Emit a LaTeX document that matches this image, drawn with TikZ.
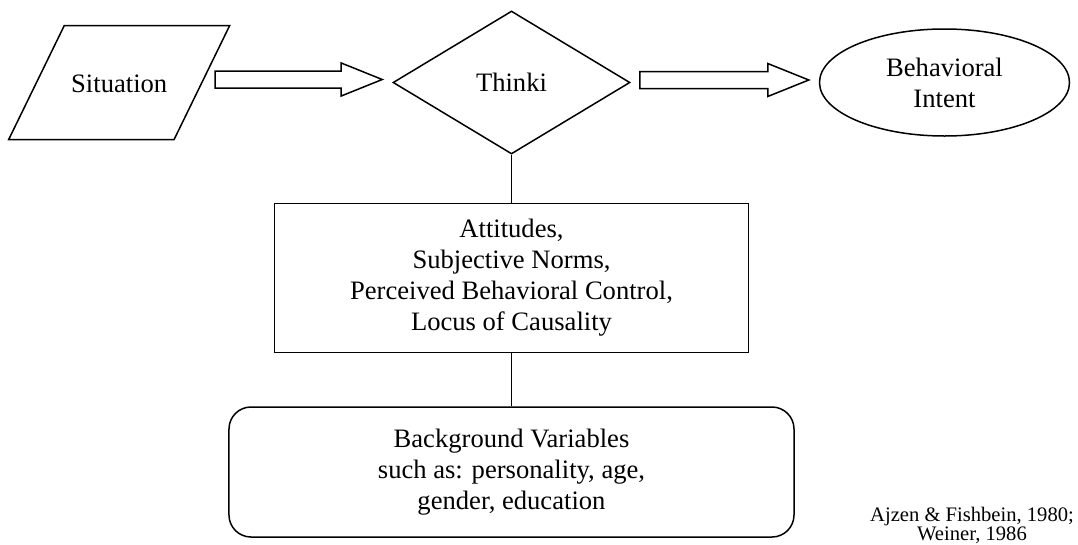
\documentclass[tikz,border=0pt]{standalone}
\usepackage{fontspec}
\setmainfont{Liberation Serif}
\usetikzlibrary{shapes.geometric, positioning, calc}

% hollow block arrow between two points
\newcommand{\blockarrow}[2]{%
  \draw[blockarr] let \p1=(#1), \p2=(#2) in
    (\x1,\y2+8.5pt) -- (\x2-41pt,\y2+8.5pt) -- (\x2-41pt,\y2+16.5pt)
    -- (\x2,\y2) -- (\x2-41pt,\y2-16.5pt) -- (\x2-41pt,\y2-8.5pt)
    -- (\x1,\y2-8.5pt) -- cycle;}

\begin{document}
\begin{tikzpicture}[
        x=1pt, y=1pt,
        line width=1.5pt,
        font=\fontsize{26.6}{31}\selectfont,
        data/.style={draw, trapezium, trapezium left angle=64, trapezium right angle=116, trapezium stretches body, text height=22pt, text depth=2pt, inner xsep=0pt, inner ysep=45pt, minimum width=221pt, minimum height=114pt},
        decision/.style={draw, diamond, aspect=1.66, minimum width=237pt, minimum height=143pt, inner sep=0pt},
        terminal/.style={draw, ellipse, minimum width=250pt, minimum height=107pt, inner sep=0pt, align=center},
        process/.style={draw, minimum width=474pt, minimum height=149pt, align=center},
        roundproc/.style={draw, rounded corners=22pt, minimum width=565pt, minimum height=130pt, align=center},
        blockarr/.style={draw, line width=1.5pt, fill=white},
        link/.style={draw, line width=1.5pt}
    ]
        \useasboundingbox (-511.5,82.5) rectangle (566.5,-461.5);

        \node[decision] (think) {Thinki};
        \node[data, left=189.5pt of think] (sit) {Situation};
        \node[terminal, right=188pt of think] (intent) {Behavioral\\Intent};
        \node[process, below=48pt of think] (attit) {Attitudes,\\Subjective Norms,\\Perceived Behavioral Control,\\Locus of Causality};
        \node[roundproc, below=53pt of attit] (backg) {Background Variables\\such as: personality, age,\\gender, education};
        \node[align=center, font=\fontsize{20.6}{16.7}\selectfont] (cite) at (460.5,-443) {Ajzen \& Fishbein, 1980;\\Weiner, 1986};

        \blockarrow{[xshift=12.5pt]sit.east}{[xshift=-10pt,yshift=3pt]think.west}
        \blockarrow{[xshift=9pt]think.east}{[xshift=-10pt,yshift=2.5pt]intent.west}
        \draw[link] (think) -- (attit);
        \draw[link] (attit) -- (backg);
    \end{tikzpicture}
\end{document}
